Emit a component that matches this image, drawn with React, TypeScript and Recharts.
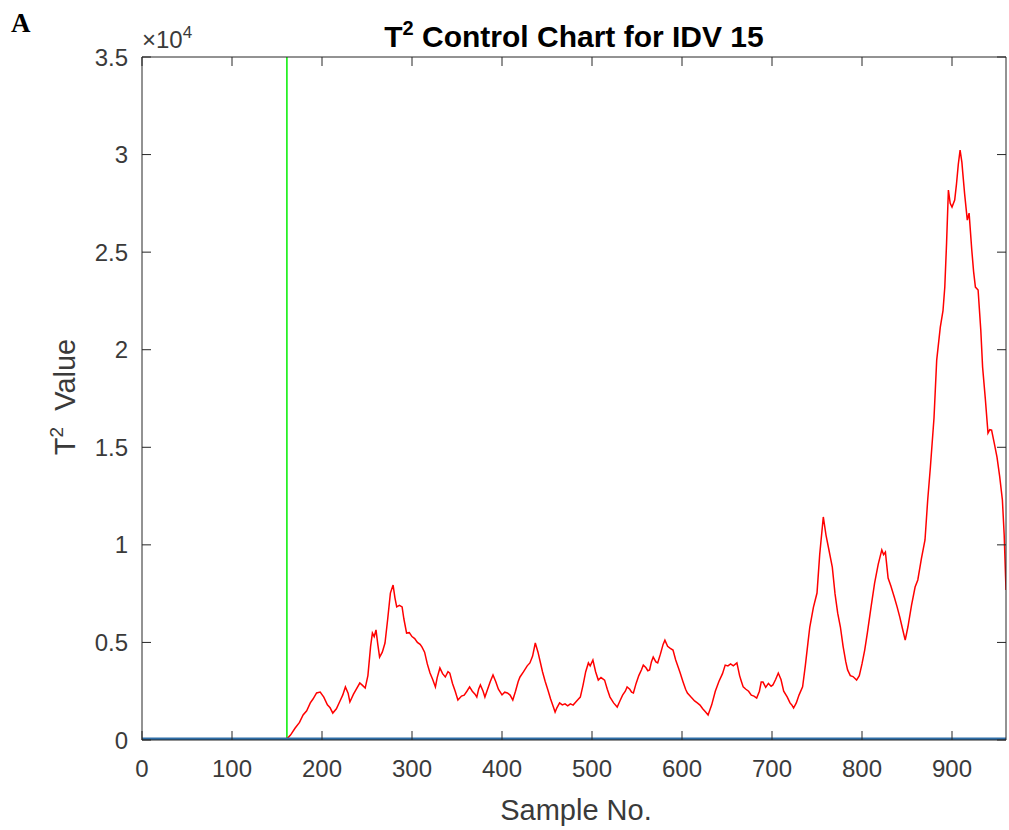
import React from 'react';
import { LineChart, Line, XAxis, YAxis, ReferenceLine } from 'recharts';

// [sample, T2 value]
const preFault: [number, number][] = [
  [0, 20], [10, 35], [20, 15], [30, 40], [40, 25], [50, 10], [60, 30], [70, 45], [80, 20],
  [90, 15], [100, 35], [110, 25], [120, 40], [130, 20], [140, 30], [150, 15], [160, 25],
];

const faultPart1: [number, number][] = [
  [161, 60], [165, 250], [170, 600], [175, 900], [179, 1280], [183, 1500], [187, 1900], [190, 2100],
  [194, 2410], [198, 2460], [202, 2200], [206, 1800], [209, 1650], [212, 1380], [216, 1600], [220, 2000],
  [223, 2300], [226, 2720], [229, 2400], [231, 1950], [235, 2350], [238, 2600], [242, 2920], [245, 2800],
  [248, 2660], [251, 3300], [254, 4800], [256, 5480], [258, 5300], [260, 5640], [262, 4900], [264, 4250],
  [267, 4500], [270, 4970], [273, 6200], [276, 7530], [279, 7940], [281, 7300], [283, 6820], [286, 6900],
  [289, 6820], [291, 6200], [294, 5480], [297, 5500], [300, 5300], [303, 5200], [306, 5000], [309, 4900],
  [311, 4770], [314, 4500], [317, 3900], [320, 3430], [323, 3100], [326, 2720], [328, 3200], [331, 3690],
  [334, 3400], [337, 3230], [340, 3500], [342, 3430], [345, 2900], [348, 2500], [351, 2050], [355, 2250],
  [358, 2300], [361, 2500], [364, 2720], [367, 2500], [370, 2350], [372, 2200], [374, 2600], [376, 2820],
  [379, 2500], [381, 2200], [384, 2600], [387, 3000], [390, 3330], [393, 3000], [396, 2600], [400, 2310],
  [403, 2450], [406, 2410], [409, 2300], [412, 2050], [415, 2500], [418, 3000], [420, 3230], [424, 3500],
  [428, 3800], [431, 3950], [434, 4300], [437, 4970], [440, 4500], [442, 4100], [445, 3500], [448, 3000],
  [451, 2560], [454, 2100], [457, 1700], [459, 1430], [461, 1650], [464, 1900], [467, 1800], [470, 1850],
  [473, 1750], [476, 1850], [479, 1790], [482, 1950], [485, 2100], [487, 2200], [490, 2800], [493, 3500],
  [496, 3950], [498, 3800], [501, 4100], [504, 3500], [507, 3070], [510, 3200], [514, 3070], [517, 2600],
  [520, 2200], [524, 1900], [528, 1690], [531, 2000], [534, 2300], [537, 2500], [539, 2720], [542, 2600],
  [544, 2450], [546, 2410], [549, 2900], [552, 3300], [555, 3600], [557, 3840], [560, 3700], [562, 3550],
  [564, 3590], [566, 4000], [568, 4250], [571, 4000], [573, 3950], [576, 4400], [579, 4900], [581, 5120],
  [584, 4800], [587, 4700], [590, 4610], [593, 4100], [596, 3700], [598, 3430], [601, 3000], [604, 2600],
  [606, 2410], [610, 2200], [614, 2000], [617, 1900], [620, 1790], [623, 1600], [626, 1450], [629, 1280],
];

const faultPart2: [number, number][] = [
  [633, 1800], [637, 2500], [641, 3000], [645, 3400], [648, 3840], [651, 3800], [654, 3900], [657, 3800],
  [661, 3950], [664, 3300], [666, 3000], [668, 2720], [671, 2600], [674, 2500], [677, 2300], [680, 2250],
  [683, 2150], [686, 2500], [688, 2970], [690, 2970], [693, 2700], [696, 2900], [699, 2750], [701, 2820],
  [704, 3100], [707, 3430], [710, 3100], [713, 2500], [717, 2200], [720, 1900], [722, 1800], [724, 1640],
  [727, 1900], [730, 2300], [734, 2720], [737, 3800], [740, 5000], [742, 5790], [746, 6800], [750, 7530],
  [753, 9500], [757, 11430], [760, 10500], [763, 9800], [767, 8860], [770, 7500], [773, 6500], [776, 5790],
  [779, 4800], [782, 4000], [784, 3590], [787, 3300], [790, 3250], [794, 3070], [797, 3300], [800, 3900],
  [803, 4610], [806, 5500], [810, 6800], [814, 8040], [818, 9000], [822, 9740], [824, 9500], [826, 9630],
  [829, 8300], [832, 7900], [836, 7300], [839, 6820], [842, 6300], [845, 5700], [848, 5120], [851, 5790],
  [855, 6900], [859, 7840], [862, 8200], [866, 9300], [870, 10250], [873, 12300], [876, 13990], [880, 16500],
  [883, 19470], [887, 21160], [890, 22000], [892, 23210], [894, 25500], [896, 28180], [898, 27500], [900, 27310],
  [903, 27670], [905, 28500], [907, 29500], [909, 30230], [911, 29600], [912, 29050], [914, 28000], [917, 26640],
  [919, 27000], [922, 25100], [924, 24000], [926, 23210], [929, 23060], [932, 21000], [934, 19110], [937, 17500],
  [940, 15730], [942, 15900], [944, 15880], [947, 15200], [950, 14500], [953, 13500], [956, 12300], [958, 10500],
  [960, 7690],
];

const xTicks = [0, 100, 200, 300, 400, 500, 600, 700, 800, 900];
const yTicks = [0, 5000, 10000, 15000, 20000, 25000, 30000, 35000];
const faultStart = 161;
const limitSamples = [0, 960];
const limitValues = [60, 60];

const data = [...preFault, ...faultPart1, ...faultPart2].map(([s, v]) => ({ s, t2: v }));
const limitData = limitSamples.map((s, i) => ({ s, lim: limitValues[i] }));

const AX = '#262626';
const TXT = '#3a3a3a';
const FONT = '"Liberation Sans", Arial, Helvetica, sans-serif';
const TICK_LEN = 9;
const TICK_FS = 24;

const BottomTick = (props: any) => {
  const { x, y, payload } = props;
  const ay = y - 20;
  return (
    <g>
      <line x1={x} x2={x} y1={ay} y2={ay - TICK_LEN} stroke={AX} strokeWidth={1} />
      <text x={x} y={y} dy="0.71em" textAnchor="middle" fill={TXT} fontSize={TICK_FS} fontFamily={FONT}>
        {payload.value}
      </text>
    </g>
  );
};

const TopTick = (props: any) => {
  const { x, y } = props;
  return <line x1={x} x2={x} y1={y} y2={y + TICK_LEN} stroke={AX} strokeWidth={1} />;
};

const LeftTick = (props: any) => {
  const { x, y, payload } = props;
  const ax = x + 14;
  const label = String(payload.value / 10000);
  return (
    <g>
      <line x1={ax} x2={ax + TICK_LEN} y1={y} y2={y} stroke={AX} strokeWidth={1} />
      <text x={x} y={y} dy="0.36em" textAnchor="end" fill={TXT} fontSize={TICK_FS} fontFamily={FONT}>
        {label}
      </text>
    </g>
  );
};

const RightTick = (props: any) => {
  const { x, y } = props;
  return <line x1={x} x2={x - TICK_LEN} y1={y} y2={y} stroke={AX} strokeWidth={1} />;
};

export default function App() {
  return (
    <div style={{ position: 'absolute', left: 0, top: 0, width: 1009, height: 830, background: '#fff' }}>
      <LineChart
        width={1009}
        height={830}
        data={data}
        margin={{ top: 56, right: 2, bottom: 60, left: 82 }}
      >
        <XAxis
          xAxisId="bottom"
          dataKey="s"
          type="number"
          domain={[0, 960]}
          ticks={xTicks}
          allowDataOverflow
          height={30}
          tickSize={0}
          tickMargin={20}
          tickLine={false}
          axisLine={{ stroke: AX, strokeWidth: 1 }}
          tick={<BottomTick />}
          interval={0}
        />
        <XAxis
          xAxisId="top"
          orientation="top"
          dataKey="s"
          type="number"
          domain={[0, 960]}
          ticks={xTicks}
          allowDataOverflow
          height={1}
          tickSize={0}
          tickMargin={0}
          tickLine={false}
          axisLine={{ stroke: AX, strokeWidth: 1 }}
          tick={<TopTick />}
          interval={0}
        />
        <YAxis
          yAxisId="left"
          type="number"
          domain={[0, 35000]}
          ticks={yTicks}
          allowDataOverflow
          width={60}
          tickSize={0}
          tickMargin={14}
          tickLine={false}
          axisLine={{ stroke: AX, strokeWidth: 1 }}
          tick={<LeftTick />}
          interval={0}
        />
        <YAxis
          yAxisId="right"
          orientation="right"
          type="number"
          domain={[0, 35000]}
          ticks={yTicks}
          allowDataOverflow
          width={1}
          tickSize={0}
          tickMargin={0}
          tickLine={false}
          axisLine={{ stroke: AX, strokeWidth: 1 }}
          tick={<RightTick />}
          interval={0}
        />
        <ReferenceLine
          x={faultStart}
          xAxisId="bottom"
          yAxisId="left"
          stroke="#00ee00"
          strokeWidth={1.5}
        />
        <Line
          xAxisId="bottom"
          yAxisId="left"
          dataKey="t2"
          type="linear"
          stroke="#ff0000"
          strokeWidth={1.5}
          dot={false}
          isAnimationActive={false}
        />
        <Line
          data={limitData}
          xAxisId="top"
          yAxisId="right"
          dataKey="lim"
          type="linear"
          stroke="#2f6ea8"
          strokeWidth={2.5}
          dot={false}
          isAnimationActive={false}
        />
      </LineChart>
      <svg
        width={1009}
        height={830}
        style={{ position: 'absolute', left: 0, top: 0, pointerEvents: 'none' }}
      >
        <text x={11} y={32} fontFamily='"Liberation Serif", "Times New Roman", serif' fontWeight="bold" fontSize={27} fill="#000">
          A
        </text>
        <text x={574} y={47} textAnchor="middle" fontFamily={FONT} fontWeight="bold" fontSize={30} fill="#000">
          T<tspan dy={-12} fontSize={20}>2</tspan>
          <tspan dy={12}> Control Chart for IDV 15</tspan>
        </text>
        <text x={142} y={48} fontFamily={FONT} fontSize={24} fill={TXT}>
          ×10<tspan dy={-10} fontSize={17}>4</tspan>
        </text>
        <text
          x={0}
          y={0}
          transform="translate(75 397) rotate(-90)"
          textAnchor="middle"
          fontFamily={FONT}
          fontSize={29}
          fill={TXT}
        >
          T<tspan dy={-12} fontSize={19}>2</tspan>
          <tspan dy={12}>{'\u00a0 Value'}</tspan>
        </text>
        <text x={576} y={820} textAnchor="middle" fontFamily={FONT} fontSize={29} fill={TXT}>
          Sample No.
        </text>
      </svg>
    </div>
  );
}
